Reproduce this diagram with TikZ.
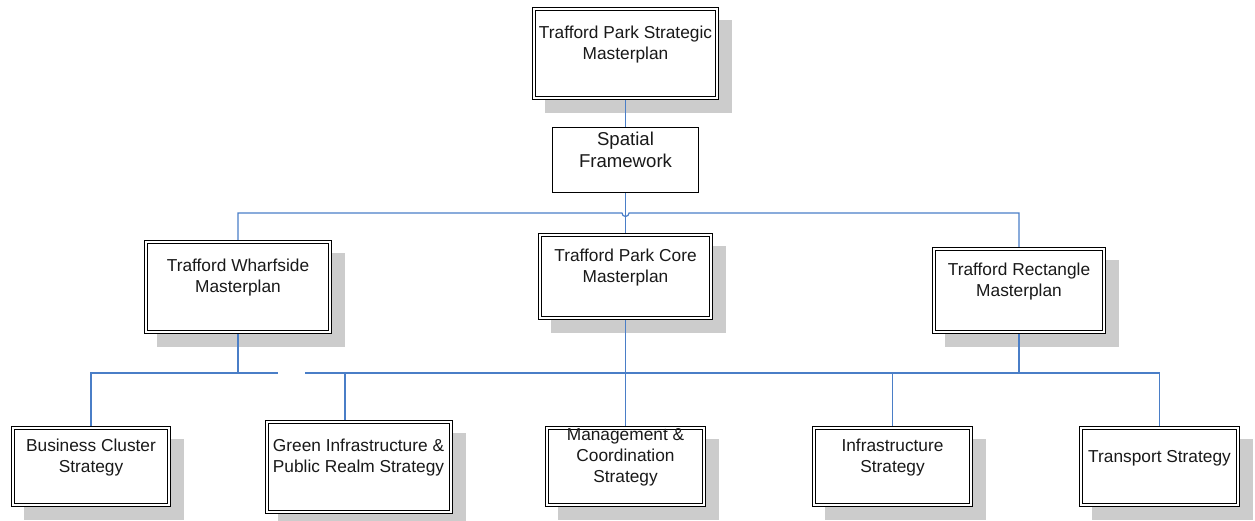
\documentclass[tikz,border=0pt]{standalone}
\usepackage{fontspec}
\setmainfont{Liberation Sans}
\usetikzlibrary{calc,backgrounds}
\definecolor{connc}{RGB}{74,126,199}
\definecolor{shadc}{RGB}{204,204,204}
\begin{document}
\begin{tikzpicture}[x=1pt,y=-1pt,
  dbox/.style={draw=black, fill=white, double=white, double distance=2pt, line width=1.1pt,
               inner sep=0pt, outer sep=2.1pt},
  sbox/.style={draw=black, fill=white, line width=1pt, inner sep=0pt, outer sep=0.5pt},
  txt/.style={align=center, font=\fontsize{17.3}{21}\selectfont, inner sep=0pt, text=black!90},
  bigtxt/.style={align=center, font=\fontsize{18.6}{22}\selectfont, inner sep=0pt, text=black!90},
  conn/.style={draw=connc, line width=1.2pt},
  shadow/.style={fill=shadc}]
\useasboundingbox (0,0) rectangle (1255,521);
\clip (0,0) rectangle (1255,521);

% boxes
\node[dbox, minimum width=182.8pt, minimum height=88.8pt] (top) at (625.5,53.5) {};
\node[sbox, minimum width=146pt, minimum height=65pt] (sp) at (625.5,160) {};
\node[dbox, minimum width=183.8pt, minimum height=89.8pt] (wh) at (238,287) {};
\node[dbox, minimum width=170.8pt, minimum height=82.8pt] (core) at (625.5,276.5) {};
\node[dbox, minimum width=169.8pt, minimum height=82.8pt] (rect) at (1019,290.5) {};
\node[dbox, minimum width=155.8pt, minimum height=76.8pt] (bc) at (91,466.5) {};
\node[dbox, minimum width=183.8pt, minimum height=89.8pt] (gr) at (359,467) {};
\node[dbox, minimum width=156.8pt, minimum height=76.8pt] (mg) at (625.5,466.5) {};
\node[dbox, minimum width=156.8pt, minimum height=76.8pt] (infra) at (892.5,466.5) {};
\node[dbox, minimum width=156.8pt, minimum height=76.8pt] (tr) at (1159.5,466.5) {};

% texts
\node[txt] (ttop) at (625.5,44.5) {Trafford Park Strategic\\Masterplan};
\node[bigtxt] (tsp) at (625.5,149.5) {Spatial\\Framework};
\node[txt] (twh) at (238,277.5) {Trafford Wharfside\\Masterplan};
\node[txt] (tcore) at (625.5,268) {Trafford Park Core\\Masterplan};
\node[txt] (trect) at (1019,281.5) {Trafford Rectangle\\Masterplan};
\node[txt] (tbc) at (91,458) {Business Cluster\\Strategy};
\node[txt] (tgr) at (358.5,458) {Green Infrastructure \&\\Public Realm Strategy};
\node[txt] (tmg) at (625.5,457.5) {Management \&\\Coordination\\Strategy};
\node[txt] (tinfra) at (892.5,458) {Infrastructure\\Strategy};
\node[txt] (ttr) at (1159.5,458) {Transport Strategy};

% shadows
\begin{scope}[on background layer]
\foreach \n in {top,wh,core,rect,bc,gr,mg,infra,tr}
  \fill[shadow] ($(\n.north west)+(13,13)$) rectangle ($(\n.south east)+(13,13)$);
\end{scope}

% connectors
\coordinate (hop) at (625.5,213);
\coordinate (gapL) at (278,373);
\coordinate (gapR) at (305,373);
\coordinate (grtop) at ([xshift=-14pt]gr.north);

\draw[conn] (top.south) -- (sp.north);
\draw[conn] (sp.south) -- (core.north);
\draw[conn] (wh.north) |- ([xshift=-3.5pt]hop) arc[start angle=180, end angle=360, radius=3.5pt] -| (rect.north);

\draw[conn] (bc.north) |- (gapL);
\draw[conn] (gapR) -| (tr.north);
\draw[conn] (wh.south) -- (wh.south |- gapL);
\draw[conn] (grtop) -- (grtop |- gapR);
\draw[conn] (core.south) -- (mg.north);
\draw[conn] (infra.north) -- (infra.north |- gapR);
\draw[conn] (rect.south) -- (rect.south |- gapR);
\end{tikzpicture}
\end{document}
